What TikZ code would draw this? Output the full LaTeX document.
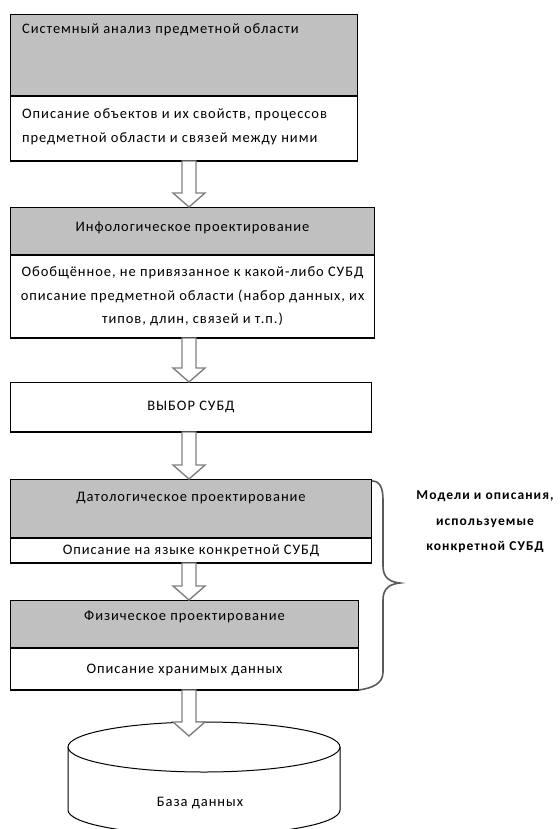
\documentclass[tikz,border=0pt]{standalone}
\usepackage{fontspec}
\setmainfont{Carlito}[LetterSpace=6.5, BoldFeatures={LetterSpace=8}]
\usetikzlibrary{calc}
\definecolor{hdrgray}{HTML}{C0C0C0}
\definecolor{arrgray}{HTML}{808080}
\tikzset{
  hdr/.style={draw, fill=hdrgray, line width=1pt, anchor=north west, inner sep=0pt},
  bodybox/.style={draw, fill=white, line width=1pt, anchor=north west, inner sep=0pt},
  shadowline/.style={line width=2.5pt},
  txt/.style={font=\fontsize{14.5}{23.5}\selectfont, inner sep=0pt},
  blockarr/.style={draw=arrgray, fill=white, line width=1.4pt, line join=miter},
  bracel/.style={draw=black!65, line width=1.6pt},
}
%% hollow arrow from #1 down to #2
\newcommand{\blockarrow}[2]{%
  \draw[blockarr] ($(#1 -| axis)+(-7,0)$) -- ($(#2 -| axis)+(-7,-14)$)
    -- ($(#2 -| axis)+(-16,-14)$) -- (#2 -| axis) -- ($(#2 -| axis)+(16,-14)$)
    -- ($(#2 -| axis)+(7,-14)$) -- ($(#1 -| axis)+(7,0)$) -- cycle;}

\begin{document}
\begin{tikzpicture}[x=1pt,y=-1pt]
\useasboundingbox (0,0) rectangle (559,829);
\clip (0,0) rectangle (559,829);
\coordinate (axis) at (189,0);

%%Systemny analiz
\node[hdr, minimum width=347pt, minimum height=81pt] (sys) at (10,14) {};
\node[bodybox, minimum width=347pt, minimum height=64pt] (sysb) at (sys.south west) {};
\draw[shadowline] (sysb.south west) -- (sysb.south east);
\node[txt, anchor=west] (systitle) at (22,30) {Системный анализ предметной области};
\node[txt, anchor=west, align=left] (sysdesc) at (22,127)
  {Описание объектов и их свойств, процессов\\предметной области и связей между ними};

%%Infologicheskoe
\node[hdr, minimum width=364pt, minimum height=47pt] (info) at (10,207) {};
\node[bodybox, minimum width=364pt, minimum height=82pt] (infob) at (info.south west) {};
\draw[shadowline] (infob.south west) -- (infob.south east);
\node[txt] (infotitle) at ($(info.north)+(0,21)$) {Инфологическое проектирование};
\node[txt, align=center] (infodesc) at (infob.center)
  {Обобщённое, не привязанное к какой-либо СУБД\\описание предметной области (набор данных, их\\типов, длин, связей и т.п.)};

%%Vybor
\node[bodybox, minimum width=361pt, minimum height=49pt] (choice) at (10,382) {};
\draw[shadowline] (choice.south west) -- (choice.south east);
\node[txt] (choicetxt) at (choice.center) {ВЫБОР СУБД};

%%Datologicheskoe
\node[hdr, minimum width=361pt, minimum height=58pt] (dat) at (10,479) {};
\node[bodybox, minimum width=361pt, minimum height=24pt] (datb) at (dat.south west) {};
\draw[shadowline] (datb.south west) -- (datb.south east);
\node[txt] (dattitle) at ($(dat.north)+(0,19)$) {Датологическое проектирование};
\node[txt] (datdesc) at (datb.center) {Описание на языке конкретной СУБД};

%%Fizicheskoe
\node[hdr, minimum width=348pt, minimum height=47pt] (phys) at (10,600) {};
\node[bodybox, minimum width=348pt, minimum height=41pt] (physb) at (phys.south west) {};
\draw[shadowline] (physb.south west) -- (physb.south east);
\node[txt] (phystitle) at ($(phys.north)+(0,17)$) {Физическое проектирование};
\node[txt] (physdesc) at ($(physb.center)+(0,1)$) {Описание хранимых данных};

%%Baza dannyh
\draw[line width=1pt, fill=white] (68,747) -- (68,810)
  arc[start angle=180, end angle=360, x radius=136pt, y radius=25pt] -- (340,747);
\draw[line width=1pt, fill=white] (204,747) ellipse [x radius=136pt, y radius=25pt];
\node[txt] (db) at (200,803) {База данных};
\coordinate (dbtop) at (189,736);

%%Arrows
\blockarrow{sysb.south}{info.north}
\blockarrow{infob.south}{choice.north}
\blockarrow{choice.south}{dat.north}
\blockarrow{datb.south}{phys.north}
\blockarrow{physb.south}{dbtop}

%%Brace
\coordinate (bracetip) at (400,583);
\draw[bracel] ($(dat.north east)+(0,2)$) .. controls (380,481) and (383,488) .. (383,500)
  -- (383,566) .. controls (383,578) and (390,582) .. (bracetip)
  .. controls (390,584) and (383,588) .. (383,600)
  -- (383,672) .. controls (383,684) and (372,688) .. (physb.south east);
\node[font=\fontsize{13.5}{25.5}\selectfont\bfseries, align=center, inner sep=0pt] (models)
  at (485,522) {Модели и описания,\\используемые\\конкретной СУБД};

\end{tikzpicture}
\end{document}
